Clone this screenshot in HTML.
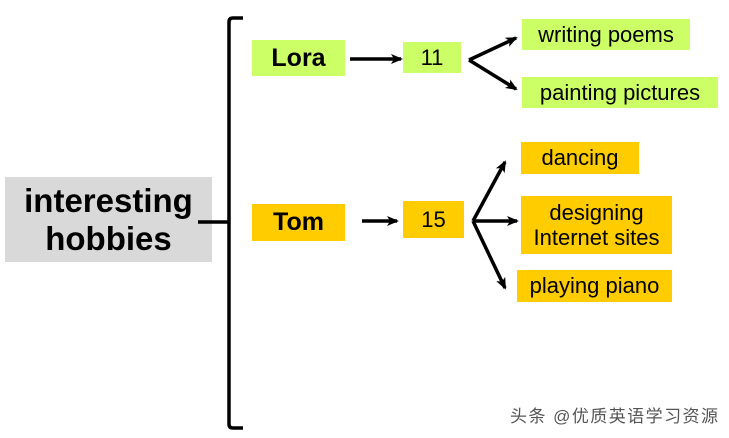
<!DOCTYPE html>
<html><head><style>
body{margin:0;width:729px;height:438px;background:#fff;position:relative;overflow:hidden;font-family:"Liberation Sans","DejaVu Sans",sans-serif}
.b{position:absolute;display:flex;align-items:center;justify-content:center;text-align:center;color:#000}
.g{background:#ccff66}.o{background:#ffcc00}
</style></head><body>
<div class="b" style="left:5px;top:177px;width:207px;height:85px;background:#d9d9d9;font-size:33px;font-weight:bold;line-height:38px">interesting<br>hobbies</div>
<div class="b g" style="left:252px;top:40px;width:93px;height:36px;font-size:25px;font-weight:bold">Lora</div>
<div class="b g" style="left:403px;top:42px;width:58px;height:31px;font-size:22px">11</div>
<div class="b g" style="left:522px;top:19px;width:168px;height:31px;font-size:22px">writing poems</div>
<div class="b g" style="left:522px;top:77px;width:196px;height:31px;font-size:22px">painting pictures</div>
<div class="b o" style="left:252px;top:204px;width:93px;height:37px;font-size:25px;font-weight:bold">Tom</div>
<div class="b o" style="left:403px;top:201px;width:61px;height:37px;font-size:22px">15</div>
<div class="b o" style="left:521px;top:142px;width:118px;height:32px;font-size:22px">dancing</div>
<div class="b o" style="left:521px;top:196px;width:151px;height:58px;font-size:22px;line-height:25px">designing<br>Internet sites</div>
<div class="b o" style="left:517px;top:270px;width:155px;height:32px;font-size:22px">playing piano</div>
<svg width="729" height="438" style="position:absolute;left:0;top:0">
<defs><marker id="a" markerWidth="12" markerHeight="12" refX="10" refY="6" orient="auto" markerUnits="userSpaceOnUse" viewBox="0 0 12 12"><path d="M0,1 L12,6 L0,11 L3,6 z" fill="#000"/></marker></defs>
<g stroke="#000" stroke-width="3.5" fill="none">
<path d="M243,18 L233,18 Q229,18 229,22 L229,424 Q229,428 233,428 L243,428"/>
<path d="M198,222 L229,222"/>
<path d="M350,59 L401,59" marker-end="url(#a)"/>
<path d="M469,60 L516,38" marker-end="url(#a)"/>
<path d="M469,60 L516,89" marker-end="url(#a)"/>
<path d="M362,221 L397,221" marker-end="url(#a)"/>
<path d="M473,221 L505,162" marker-end="url(#a)"/>
<path d="M473,221 L517,221" marker-end="url(#a)"/>
<path d="M473,221 L505,288" marker-end="url(#a)"/>
</g>
<text x="510" y="422" font-size="17" fill="#555" textLength="208" font-family="Liberation Sans,Noto Sans CJK SC,sans-serif">头条 @优质英语学习资源</text>
</svg>
</body></html>
